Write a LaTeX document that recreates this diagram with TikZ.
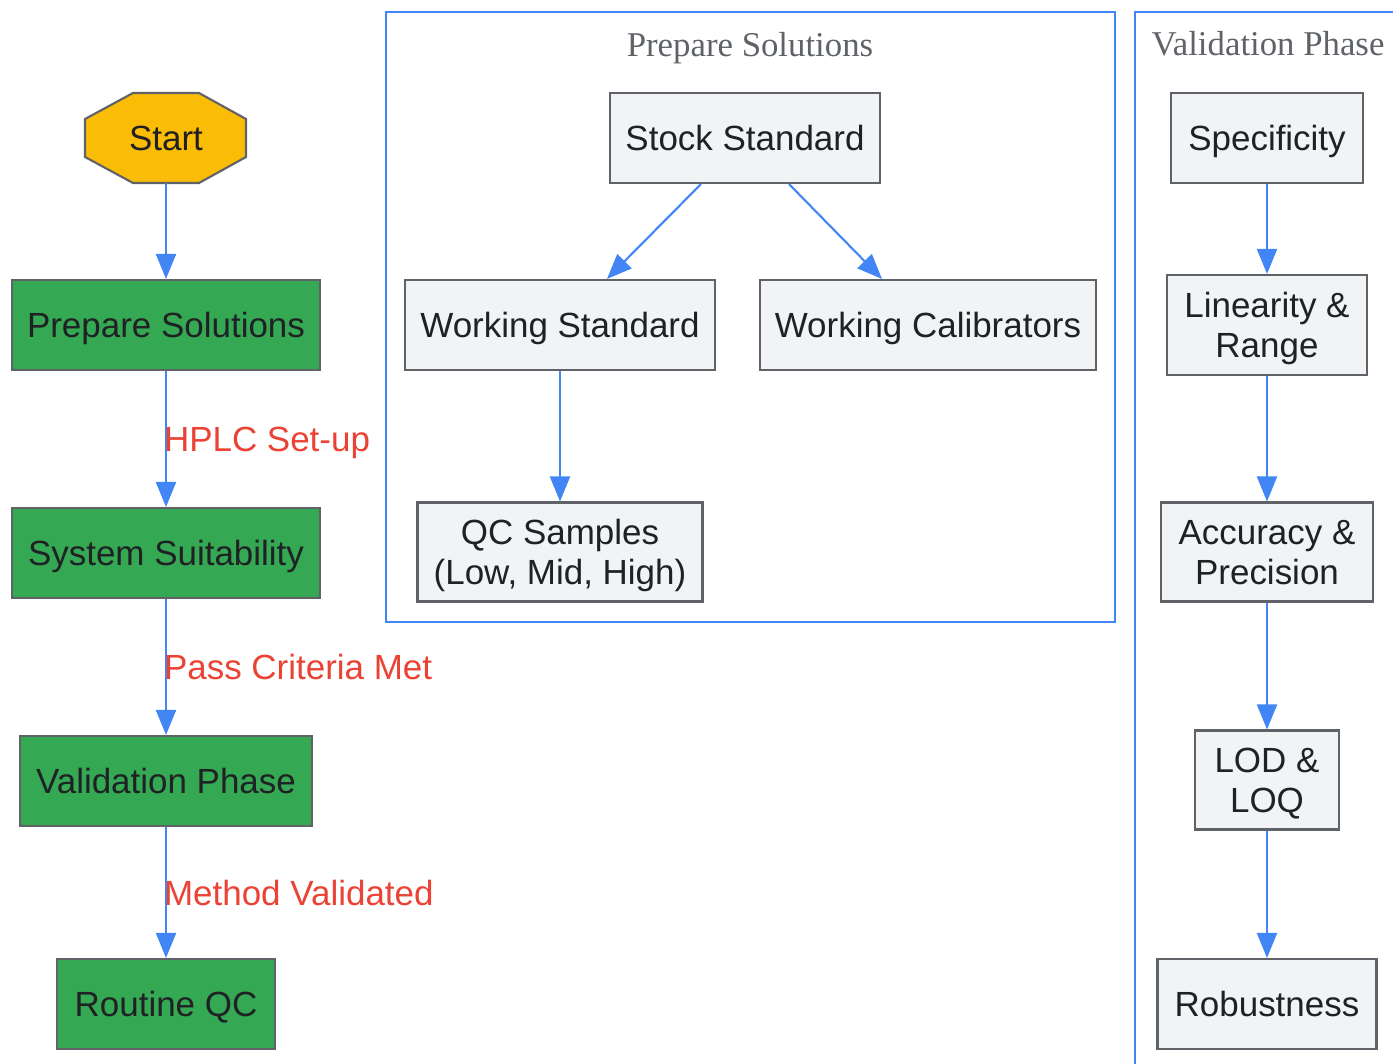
\documentclass[tikz,border=0pt]{standalone}
\usepackage{fontspec}
\setmainfont{Liberation Sans}
\newfontfamily\titlefont{Liberation Serif}
\usetikzlibrary{arrows.meta}
\definecolor{gblue}{HTML}{4285F4}
\definecolor{gred}{HTML}{EA4335}
\definecolor{ggreen}{HTML}{34A853}
\definecolor{gyellow}{HTML}{FBBC05}
\definecolor{ggray}{HTML}{5F6368}
\definecolor{glight}{HTML}{F1F3F4}
\definecolor{gtext}{HTML}{202124}

\begin{document}
\begin{tikzpicture}[x=0.02cm,y=-0.02cm,
    every node/.style={font=\fontsize{19.9}{22.7}\selectfont, text=gtext, align=center, inner sep=0pt, text depth=-1.5pt},
    greenbox/.style={draw=ggray, line width=1.2pt, fill=ggreen, minimum height=1.8cm},
    graybox/.style={draw=ggray, line width=1.2pt, fill=glight, minimum height=1.8cm},
    cluster/.style={draw=gblue, line width=1.2pt},
    clustertitle/.style={font=\titlefont\fontsize{19.8}{22.7}\selectfont, text=ggray},
    flow/.style={draw=gblue, line width=1.2pt, -{Triangle[length=0.5cm, width=0.4cm]}},
    edgelabel/.style={text=gred, anchor=west, xshift=-0.06cm}]
    \clip (0,0) rectangle (1393,1064);

    \draw[cluster] (386,12) rectangle (1115,622);
    \draw[cluster] (1135,12) rectangle (1420,1090);
    \node[clustertitle] (titleprep) at (750,44) {Prepare Solutions};
    \node[clustertitle] (titleval) at (1268,43) {Validation Phase};

    \filldraw[draw=ggray, fill=gyellow, line width=1.2pt] (133,93) -- (199,93) -- (246,119) -- (246,157)
        -- (199,183) -- (133,183) -- (85,157) -- (85,119) -- cycle;
    \node[minimum width=3.22cm, minimum height=1.8cm] (start) at (166,138) {Start};

    \node[greenbox, minimum width=6.16cm] (prep) at (166,325) {Prepare Solutions};
    \node[greenbox, minimum width=6.16cm] (suit) at (166,553) {System Suitability};
    \node[greenbox, minimum width=5.84cm] (valid) at (166,781) {Validation Phase};
    \node[greenbox, minimum width=4.36cm] (routine) at (166,1004) {Routine QC};

    \node[graybox, minimum width=5.4cm] (stock) at (745,138) {Stock Standard};
    \node[graybox, minimum width=6.2cm] (workstd) at (560,325) {Working Standard};
    \node[graybox, minimum width=6.72cm] (workcal) at (928,325) {Working Calibrators};
    \node[graybox, minimum width=5.7cm, minimum height=1.98cm] (qc) at (560,552) {QC Samples\\(Low, Mid, High)};

    \node[graybox, minimum width=3.84cm] (spec) at (1267,138) {Specificity};
    \node[graybox, minimum width=4cm, minimum height=2cm] (lin) at (1267,325) {Linearity \&\\Range};
    \node[graybox, minimum width=4.24cm, minimum height=1.98cm] (acc) at (1267,552) {Accuracy \&\\Precision};
    \node[graybox, minimum width=2.88cm, minimum height=1.98cm] (lod) at (1267,780) {LOD \&\\LOQ};
    \node[graybox, minimum width=4.38cm] (robust) at (1267,1004) {Robustness};

    \draw[flow] (start) -- (prep);
    \draw[flow] (prep) -- node[edgelabel] (lblhplc) {HPLC Set-up} (suit);
    \draw[flow] (suit) -- node[edgelabel] (lblpass) {Pass Criteria Met} (valid);
    \draw[flow] (valid) -- node[edgelabel] (lblmethod) {Method Validated} (routine);

    \draw[flow] ([xshift=-0.88cm]stock.south) -- ([xshift=0.94cm]workstd.north);
    \draw[flow] ([xshift=0.88cm]stock.south) -- ([xshift=-0.92cm]workcal.north);
    \draw[flow] (workstd) -- (qc);

    \draw[flow] (spec) -- (lin);
    \draw[flow] (lin) -- (acc);
    \draw[flow] (acc) -- (lod);
    \draw[flow] (lod) -- (robust);
\end{tikzpicture}
\end{document}
